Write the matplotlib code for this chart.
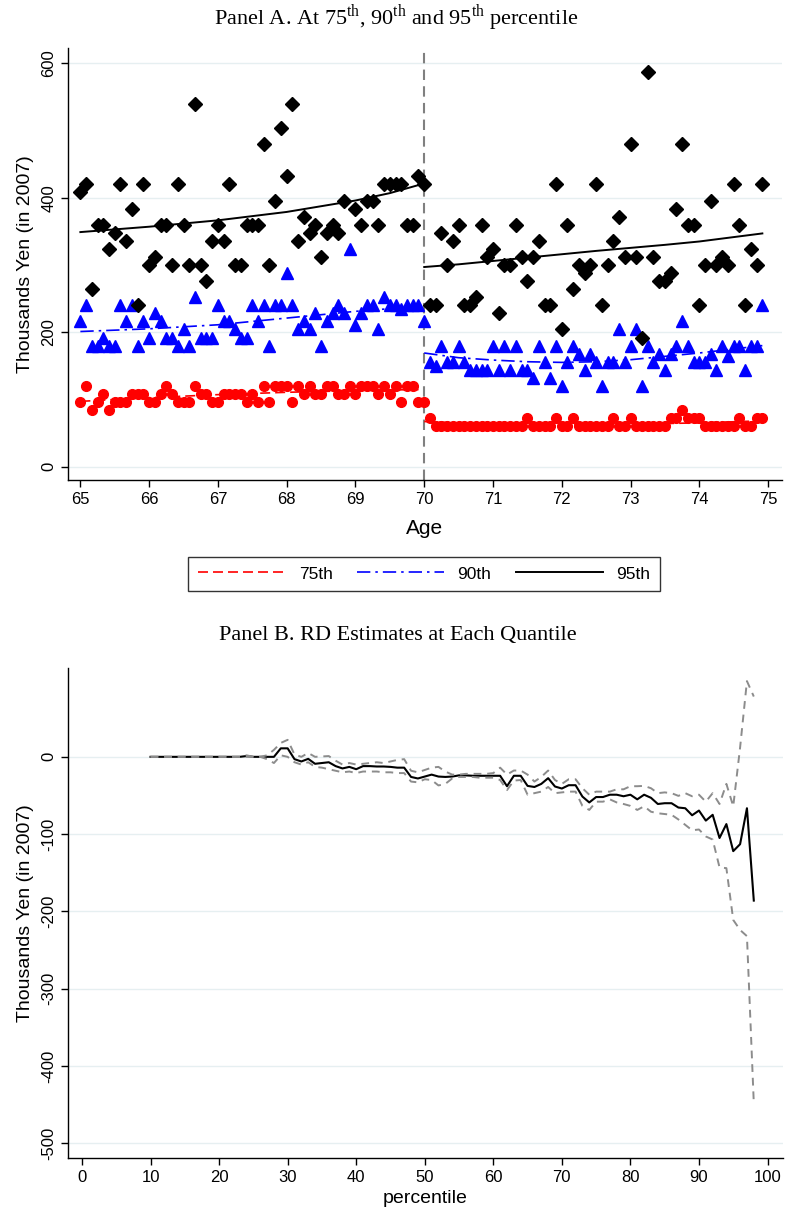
import numpy as np
import matplotlib.pyplot as plt
from matplotlib.lines import Line2D

plt.rcParams['font.family'] = ['Liberation Sans', 'DejaVu Sans']
plt.rcParams['mathtext.fontset'] = 'custom'
plt.rcParams['mathtext.rm'] = 'Liberation Serif'
plt.rcParams['axes.unicode_minus'] = False

# ---- Panel A data: monthly ages 65y0m .. 74y11m ----
age = 65 + np.arange(120) / 12.0

p75 = [96, 120, 84, 96, 108, 84, 96, 96, 96, 108,
       108, 108, 96, 96, 108, 120, 108, 96, 96, 96,
       120, 108, 108, 96, 96, 108, 108, 108, 108, 96,
       108, 96, 120, 96, 120, 120, 120, 96, 120, 108,
       120, 108, 108, 120, 120, 108, 108, 120, 108, 120,
       120, 120, 108, 120, 108, 120, 96, 120, 120, 96,
       96, 72, 60, 60, 60, 60, 60, 60, 60, 60,
       60, 60, 60, 60, 60, 60, 60, 60, 72, 60,
       60, 60, 60, 72, 60, 60, 72, 60, 60, 60,
       60, 60, 60, 72, 60, 60, 72, 60, 60, 60,
       60, 60, 60, 72, 72, 84, 72, 72, 72, 60,
       60, 60, 60, 60, 60, 72, 60, 60, 72, 72]

p90 = [216, 240, 180, 180, 192, 180, 180, 240, 216, 240,
       180, 216, 192, 228, 216, 192, 192, 180, 204, 180,
       252, 192, 192, 192, 240, 216, 216, 204, 192, 192,
       240, 216, 240, 180, 240, 240, 288, 240, 204, 216,
       204, 228, 180, 216, 228, 240, 228, 324, 210, 228,
       240, 240, 204, 252, 240, 240, 234, 240, 240, 240,
       216, 156, 150, 180, 156, 156, 180, 156, 144, 144,
       144, 144, 180, 144, 180, 144, 180, 144, 144, 132,
       180, 156, 132, 180, 120, 156, 180, 168, 144, 168,
       156, 120, 156, 156, 204, 156, 180, 204, 120, 180,
       156, 168, 144, 168, 180, 216, 180, 156, 156, 156,
       168, 144, 180, 165, 180, 180, 144, 180, 180, 240]

p95 = [408, 420, 264, 360, 360, 324, 348, 420, 336, 384,
       240, 420, 300, 312, 360, 360, 300, 420, 360, 300,
       540, 300, 276, 336, 360, 336, 420, 300, 300, 360,
       360, 360, 480, 300, 396, 504, 432, 540, 336, 372,
       348, 360, 312, 348, 360, 348, 396, np.nan, 384, 360,
       396, 396, 360, 420, 420, 420, 420, 360, 360, 432,
       420, 240, 240, 348, 300, 336, 360, 240, 240, 252,
       360, 312, 324, 228, 300, 300, 360, 312, 276, 312,
       336, 240, 240, 420, 204, 360, 264, 300, 288, 300,
       420, 240, 300, 336, 372, 312, 480, 312, 192, 588,
       312, 276, 276, 288, 384, 480, 360, 360, 240, 300,
       396, 300, 312, 300, 420, 360, 240, 324, 300, 420]

# fitted curves, left and right of age 70
fit_age_l = [65.0, 66.0, 67.0, 68.0, 69.0, 69.5, 69.917]
fit_age_r = [70.0, 70.5, 71.0, 71.5, 72.0, 72.5, 73.0, 73.5, 74.0, 74.917]
fit75_l = [97, 102.5, 107, 110.5, 113, 114, 114.5]
fit75_r = [67, 65, 63, 62.5, 62, 62.5, 63, 64, 65, 68]
fit90_l = [201, 205, 211, 221, 231, 235, 238]
fit90_r = [169, 162, 158.5, 156, 155, 156, 159, 164, 169, 180]
fit95_l = [349, 357, 366.5, 379, 396, 407, 419]
fit95_r = [297, 301, 306, 311, 316, 321, 325.5, 330, 335, 347]

# ---- Panel B data: RD estimate by percentile ----
pct = list(range(10, 99))
rd_est = [0, 0, 0, 0, 0, 0, 0, 0, 0, 0, 0, 0, 0, 0, 1, 0, 0, 0, 0, 11,
          11, -3, -6, -2.6, -9, -8, -7, -12, -15, -13, -16, -12, -12, -12.5, -12.5, -13, -14, -14, -26, -28,
          -25.5, -23, -25.5, -26, -25.5, -24, -24, -24.5, -24.5, -24.5, -24.5, -24.5, -38, -24.5, -24.5, -37.6, -39, -35, -27.6, -38.4,
          -41, -36.7, -36.7, -51.4, -59, -52, -52, -49, -49, -51, -49, -55, -49, -53, -61, -60, -60, -65.6, -66.5, -75.6,
          -69.5, -82.5, -75, -105, -87, -122, -113, -66.5, -186]
rd_hi = [0, 0, 0, 0, 0, 0, 0, 0, 0, 0, 0, 0, 0, 0, 2, 0, 0, 2, 9, 18,
         22, 3, 0, 5, 0, 0.5, 1, -5, -10, -8, -10, -9, -8, -7, -8, -6, -4, -3, -18, -20,
         -17, -14, -13, -19, -23, -23, -22, -22, -22, -22, -21, -14, -23, -17.7, -17.7, -23, -32, -26, -17.7, -30,
         -35, -29, -29, -40.6, -49, -45, -45, -45, -42, -42, -38, -38, -37.6, -40.6, -47, -46, -47, -50.5, -47, -51,
         -49, -58, -47, -61, -35, -64, 12, 98, 78]
rd_lo = [0, 0, 0, 0, 0, 0, 0, 0, 0, 0, 0, 0, 0, 0, 0, 0, 0, -3, -8, 2,
         0, -7, -10, -7, -13, -14, -16, -18, -20, -19, -21, -19, -19, -19, -20, -20, -21, -21, -32, -33,
         -29, -30, -37, -35, -28, -26, -26, -26, -27, -27, -27, -30, -43, -30.7, -30, -49, -47, -45, -39, -47,
         -46, -45, -45, -63.5, -68.7, -58, -58, -55, -59, -61, -63.5, -68.7, -64, -71, -73, -74, -75, -81, -88, -95,
         -94, -103, -107, -143, -144, -211, -224, -232, -448]

GRID = '#e6eff1'
TITLE_FONT = dict(family=['Liberation Serif', 'DejaVu Serif'], fontsize=16)

fig = plt.figure(figsize=(7.87, 12.16), dpi=100)


def style_axis(ax):
    ax.spines['top'].set_visible(False)
    ax.spines['right'].set_visible(False)
    ax.spines['left'].set_linewidth(1.0)
    ax.spines['bottom'].set_linewidth(1.0)
    ax.tick_params(direction='out', length=5, width=1, labelsize=12)
    ax.tick_params(axis='y', labelrotation=90)
    for lab in ax.get_yticklabels():
        lab.set_verticalalignment('center')
    ax.yaxis.grid(True, color=GRID, linewidth=1.0)
    ax.set_axisbelow(True)


# ---------------- Panel A ----------------
axA = fig.add_axes([0.0864, 0.6053, 0.907, 0.3552])
axA.axvline(70, color='#808080', linestyle=(0, (5, 3)), linewidth=1.5, zorder=1)
axA.plot(age, p75, linestyle='none', marker='o', markersize=7, color='red', zorder=3)
axA.plot(age, p90, linestyle='none', marker='^', markersize=8.5, color='blue', zorder=3)
axA.plot(age, p95, linestyle='none', marker='D', markersize=7, color='black', zorder=3)
for xs, ys in [(fit_age_l, fit75_l), (fit_age_r, fit75_r)]:
    axA.plot(xs, ys, color='red', linestyle=(0, (6, 3)), linewidth=1.2, zorder=4)
for xs, ys in [(fit_age_l, fit90_l), (fit_age_r, fit90_r)]:
    axA.plot(xs, ys, color='blue', linestyle=(0, (8, 3, 1.5, 3)), linewidth=1.2, zorder=4)
for xs, ys in [(fit_age_l, fit95_l), (fit_age_r, fit95_r)]:
    axA.plot(xs, ys, color='black', linestyle='-', linewidth=1.4, zorder=4)
axA.set_xlim(64.82, 75.2)
axA.set_ylim(-20, 623)
axA.set_xticks(range(65, 76))
axA.set_yticks([0, 200, 400, 600])
style_axis(axA)
axA.set_xlabel('Age', fontsize=15, labelpad=9)
axA.set_ylabel('Thousands Yen (in 2007)', fontsize=14, labelpad=5)

fig.text(0.503, 0.985, r'Panel A. At 75$^{\mathrm{th}}$, 90$^{\mathrm{th}}$ and 95$^{\mathrm{th}}$ percentile',
         ha='center', va='center', **TITLE_FONT)

handles = [Line2D([], [], color='red', linestyle=(0, (6, 3)), linewidth=1.2),
           Line2D([], [], color='blue', linestyle=(0, (8, 3, 1.5, 3)), linewidth=1.2),
           Line2D([], [], color='black', linestyle='-', linewidth=1.4)]
leg = fig.legend(handles, ['75th', '90th', '95th'], loc='center', bbox_to_anchor=(0.539, 0.528),
                 ncol=3, fontsize=12.5, handlelength=5.0, columnspacing=1.4, handletextpad=0.8,
                 frameon=True, fancybox=False, edgecolor='black', borderpad=0.55)
leg.get_frame().set_linewidth(1.0)

# ---------------- Panel B ----------------
axB = fig.add_axes([0.0864, 0.0477, 0.908, 0.403])
axB.plot(pct, rd_hi, color='#8c8c8c', linestyle=(0, (4, 3)), linewidth=1.4, zorder=3)
axB.plot(pct, rd_lo, color='#8c8c8c', linestyle=(0, (4, 3)), linewidth=1.4, zorder=3)
axB.plot(pct, rd_est, color='black', linewidth=1.5, zorder=2)
axB.set_xlim(-2.04, 102.2)
axB.set_ylim(-519, 115)
axB.set_xticks(range(0, 101, 10))
axB.set_yticks([0, -100, -200, -300, -400, -500])
style_axis(axB)
axB.set_xlabel('percentile', fontsize=14, labelpad=4)
axB.set_ylabel('Thousands Yen (in 2007)', fontsize=14, labelpad=5)

fig.text(0.505, 0.477, 'Panel B. RD Estimates at Each Quantile', ha='center', va='center', **TITLE_FONT)

fig.savefig('out.png', dpi=100)
